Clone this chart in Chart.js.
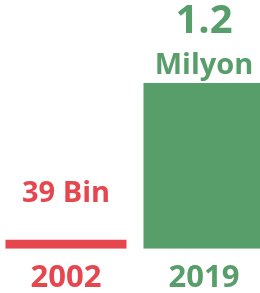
<!DOCTYPE html>
<html>
<head>
<meta charset="utf-8">
<script src="https://cdn.jsdelivr.net/npm/chart.js@4"></script>
<style>
html,body{margin:0;padding:0;background:#fff;overflow:hidden;width:260px;height:293px;}
#wrap{position:absolute;left:-3px;top:0;width:276px;height:308px;}
</style>
</head>
<body>
<div id="wrap"><canvas id="c"></canvas></div>
<script>
const categories = ["2002", "2019"];
const values = [39000, 1200000];
const valueLabels = [["39 Bin"], ["1.2", "Milyon"]];
const colors = ["#E6474E", "#579E6A"];

const labelPlugin = {
  id: 'valueLabels',
  afterDatasetsDraw(chart, args, opts) {
    const ctx = chart.ctx;
    const meta = chart.getDatasetMeta(0);
    ctx.save();
    ctx.textAlign = 'center';
    ctx.textBaseline = 'alphabetic';
    meta.data.forEach((bar, i) => {
      const lines = valueLabels[i];
      const off = opts.offsets[i];
      ctx.fillStyle = colors[i];
      let y = bar.y - off;
      for (let k = lines.length - 1; k >= 0; k--) {
        const big = lines.length > 1 && k === 0;
        ctx.font = 'bold ' + (big ? opts.bigSize : opts.size) + 'px "Open Sans"';
        ctx.fillText(lines[k], bar.x, y);
        y -= opts.lineGap;
      }
    });
    ctx.restore();
  }
};

new Chart(document.getElementById('c'), {
  type: 'bar',
  data: {
    labels: categories,
    datasets: [{
      data: values,
      backgroundColor: colors,
      borderWidth: 0,
      barPercentage: 0.877,
      categoryPercentage: 1,
      minBarLength: 9
    }]
  },
  options: {
    responsive: true,
    maintainAspectRatio: false,
    animation: false,
    layout: { padding: 0 },
    plugins: {
      legend: { display: false },
      tooltip: { enabled: false },
      valueLabels: { offsets: [38, 9], size: 29, bigSize: 40, lineGap: 41 }
    },
    scales: {
      x: {
        grid: { display: false, drawTicks: false },
        border: { display: false },
        ticks: {
          padding: 11,
          color: (c) => colors[c.index],
          font: { family: '"Open Sans"', weight: 'bold', size: 31, lineHeight: 1.2 }
        }
      },
      y: {
        display: false,
        min: 0,
        max: 1800000
      }
    }
  },
  plugins: [labelPlugin]
});
</script>
</body>
</html>
